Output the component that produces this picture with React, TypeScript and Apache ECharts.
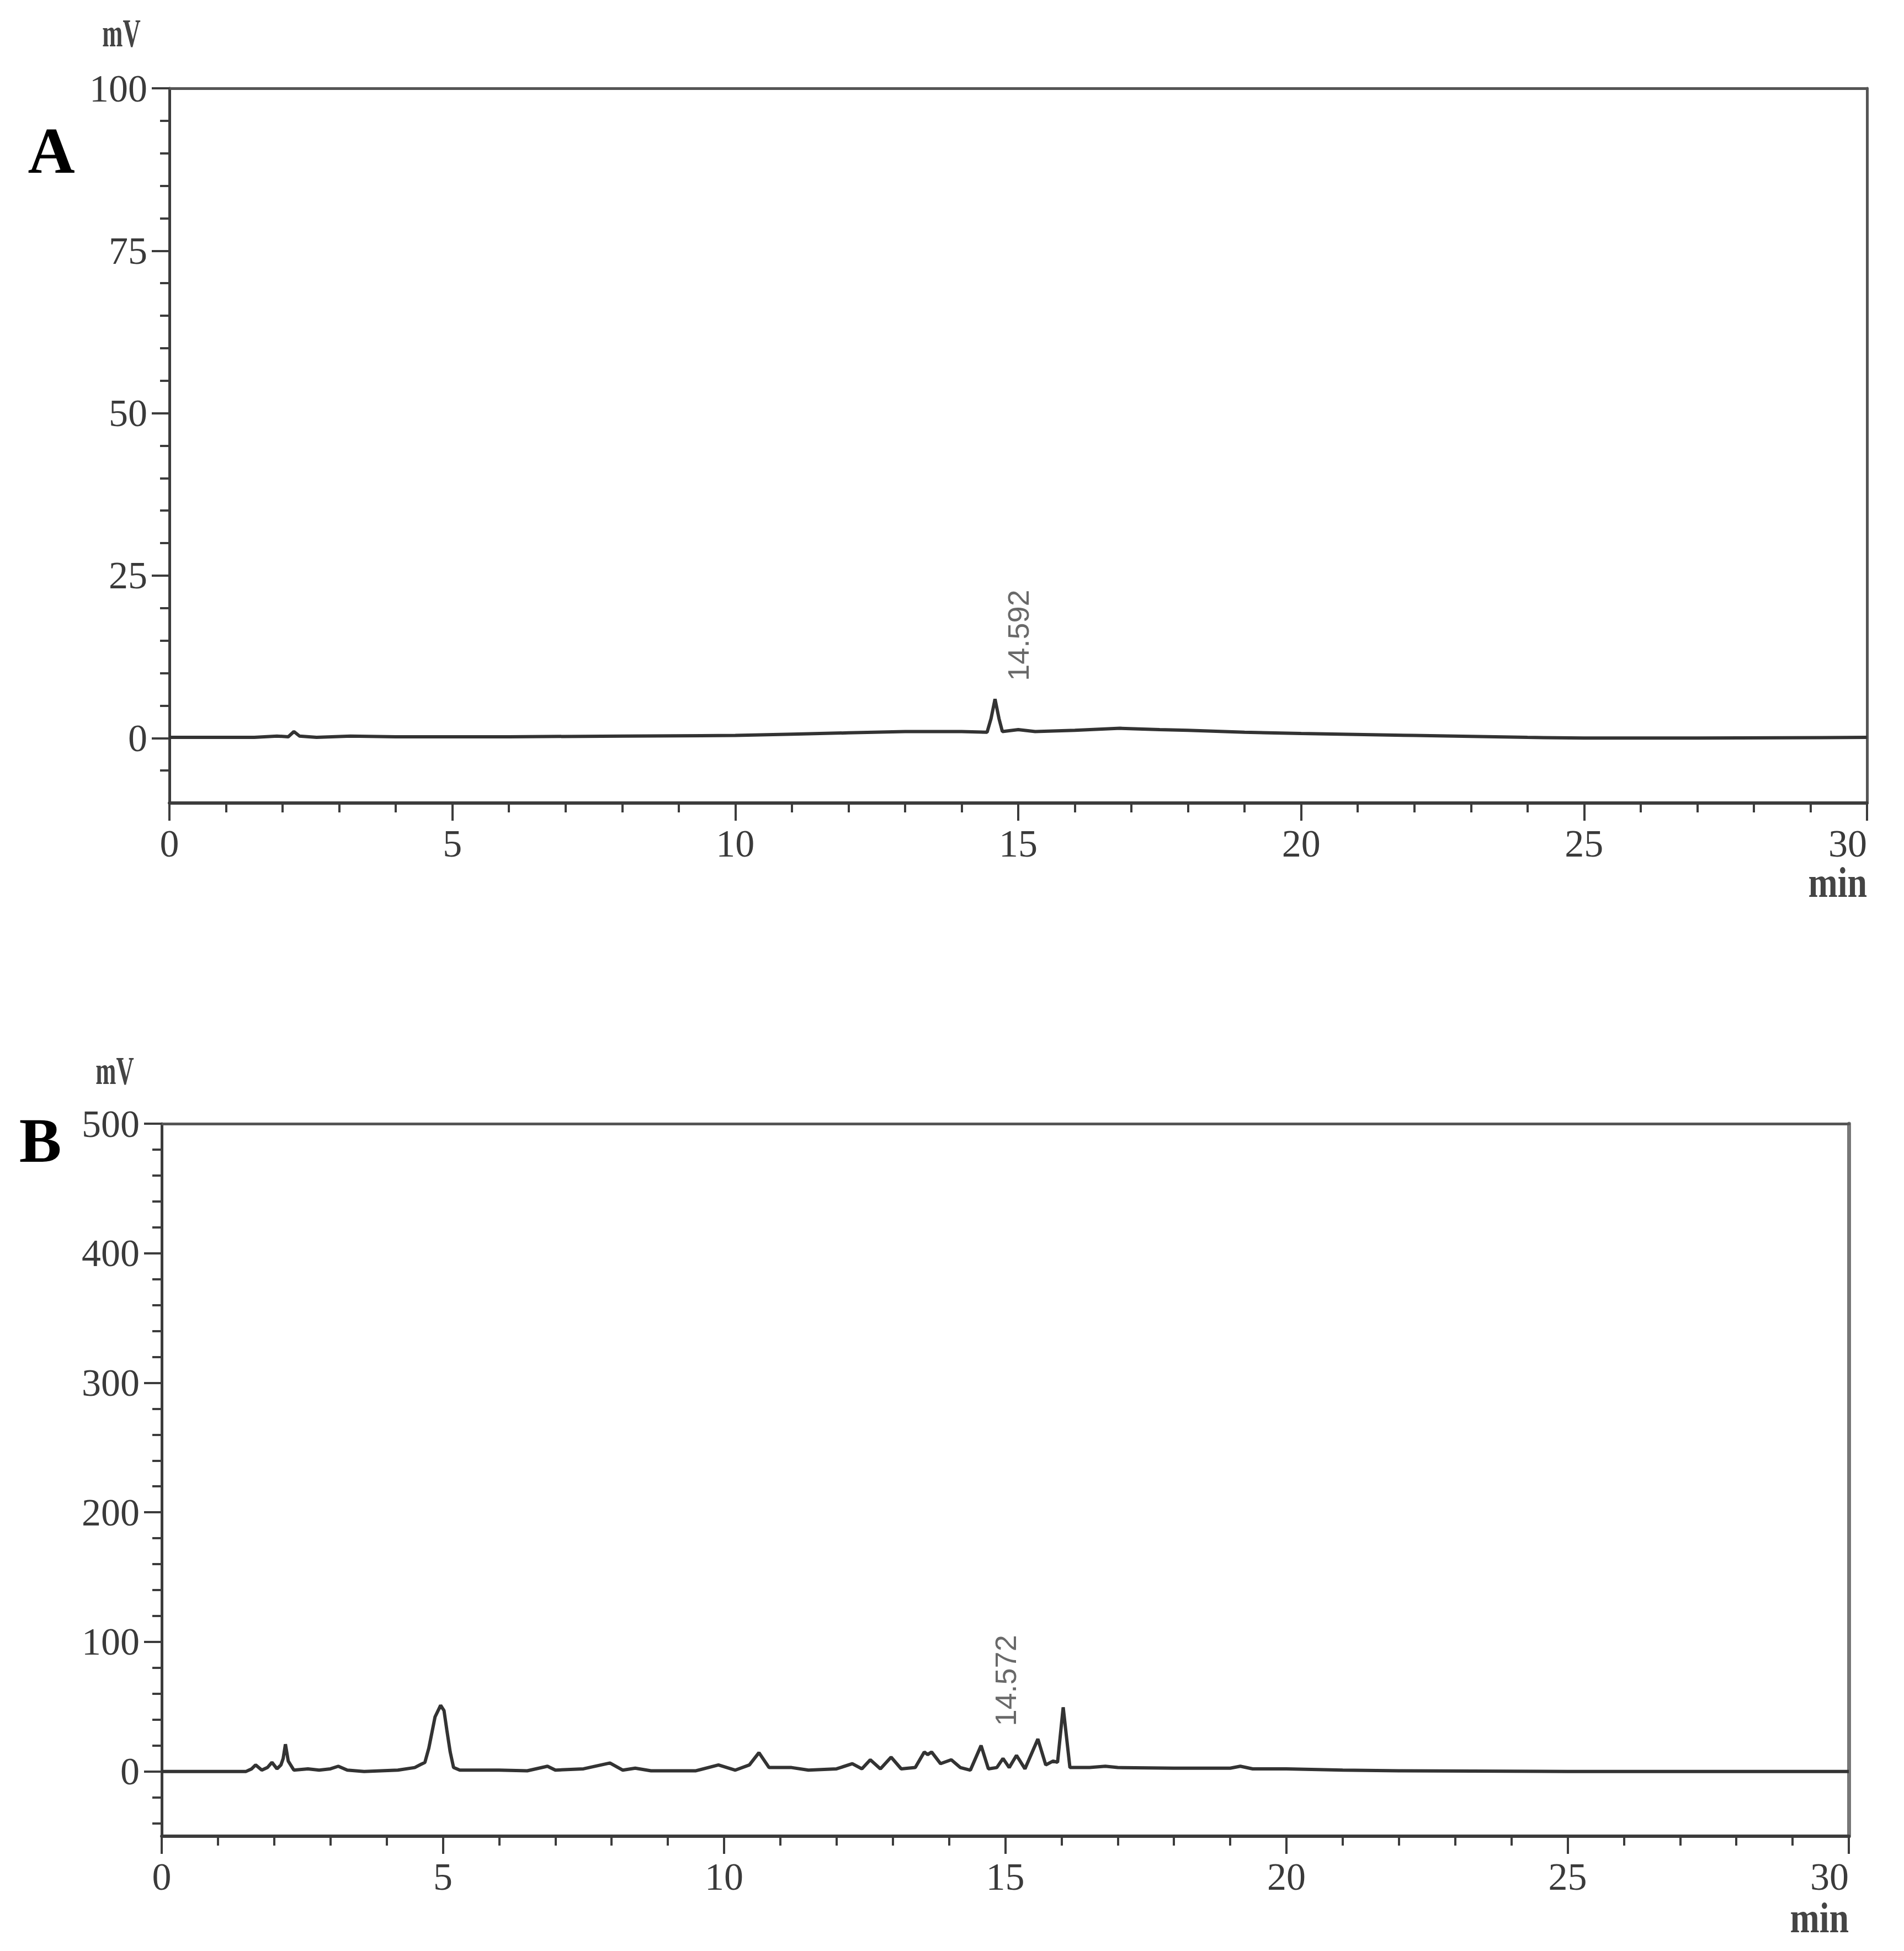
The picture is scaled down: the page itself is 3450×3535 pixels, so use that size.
import React, { useEffect, useRef } from 'react';
import * as echarts from 'echarts';

// ---- Chromatogram A (reference) ----
const timeA = [0, 1.5, 1.9, 2.1, 2.2, 2.3, 2.6, 3.2, 4, 6, 8, 10, 11, 12, 13, 14, 14.45, 14.52, 14.59, 14.66, 14.72, 15, 15.3, 16, 16.8, 17.5, 18, 19, 20, 22, 24, 25, 27, 30];
const mvA = [0.1, 0.1, 0.3, 0.2, 1.0, 0.3, 0.1, 0.3, 0.2, 0.2, 0.3, 0.4, 0.6, 0.8, 1.0, 1.0, 0.9, 3, 6.0, 3, 1.0, 1.3, 1.0, 1.2, 1.5, 1.3, 1.2, 0.9, 0.7, 0.4, 0.1, 0, 0, 0.1];

// ---- Chromatogram B (sample) ----
const timeB = [0, 1.5, 1.6, 1.67, 1.78, 1.88, 1.96, 2.05, 2.12, 2.16, 2.2, 2.25, 2.35, 2.6, 2.8, 3.0, 3.14, 3.3, 3.6, 4.2, 4.5, 4.68, 4.75, 4.86, 4.96, 5.02, 5.07, 5.13, 5.19, 5.3, 6.0, 6.5, 6.86, 7.0, 7.5, 7.97, 8.2, 8.42, 8.7, 9.5, 9.9, 10.2, 10.45, 10.62, 10.8, 11.2, 11.5, 12.0, 12.28, 12.45, 12.6, 12.78, 12.97, 13.15, 13.4, 13.56, 13.62, 13.69, 13.85, 14.04, 14.2, 14.38, 14.57, 14.7, 14.85, 14.96, 15.07, 15.2, 15.35, 15.58, 15.72, 15.85, 15.93, 16.03, 16.15, 16.5, 16.78, 17.0, 18, 19.0, 19.18, 19.4, 20, 21, 22, 25, 30];
const mvB = [0, 0, 2, 5, 1, 3, 7, 2, 5, 10, 21, 8, 1, 2, 1, 2, 4, 1, 0, 1, 3, 7, 18, 42, 51, 47, 32, 15, 3, 1, 1, 0.5, 4, 1, 2, 6.5, 1, 2.5, 0.5, 0.5, 5, 1, 5, 14.5, 3, 3, 1, 2, 6, 2, 9, 2, 11, 2, 3, 15, 13, 15, 6, 9, 3, 1, 20, 2, 3, 10, 3, 12.4, 2, 25, 5, 8, 7, 49.5, 3, 3, 4, 3, 2.5, 2.5, 4, 2, 2, 1, 0.5, 0, 0];

// ---- Axes ----
const xMin = 0;
const xMax = 30;
const xInterval = 5;
const yMinA = -10;
const yMaxA = 100;
const yMajorA = [0, 25, 50, 75, 100];
const yMinorA = [-5, 5, 10, 15, 20, 30, 35, 40, 45, 55, 60, 65, 70, 80, 85, 90, 95];
const yMinB = -50;
const yMaxB = 500;
const yMajorB = [0, 100, 200, 300, 400, 500];
const yMinorB = [-40, -20, 20, 40, 60, 80, 120, 140, 160, 180, 220, 240, 260, 280, 320, 340, 360, 380, 420, 440, 460, 480];

// ---- Peak annotations (label anchor in data coords) ----
const peakLabelA = { text: '14.592', x: 15.0, y: 8.8 };
const peakLabelB = { text: '14.572', x: 15.0, y: 35 };

const AXIS_COLOR = '#3c3c3c';
const LABEL_COLOR = '#3a3a3a';
const SERIF = '"Liberation Serif", "Times New Roman", serif';

function pairs(t: number[], v: number[]) {
  return t.map((x, i) => [x, v[i]]);
}

function xAxesFor(gridIndex: number) {
  return [
    {
      type: 'value', gridIndex, min: xMin, max: xMax, interval: xInterval, position: 'bottom',
      axisLine: { show: true, onZero: false, lineStyle: { color: AXIS_COLOR, width: 6 } },
      axisTick: { show: true, length: 32, lineStyle: { color: AXIS_COLOR, width: 4 } },
      minorTick: { show: true, splitNumber: 5, length: 17, lineStyle: { color: AXIS_COLOR, width: 4 } },
      axisLabel: { show: true, margin: 38, fontSize: 70, fontFamily: SERIF, color: LABEL_COLOR, alignMaxLabel: 'right' },
      splitLine: { show: false },
    },
    {
      type: 'value', gridIndex, min: xMin, max: xMax, position: 'top',
      axisLine: { show: true, onZero: false, lineStyle: { color: '#555', width: 5 } },
      axisTick: { show: false }, axisLabel: { show: false }, splitLine: { show: false },
    },
  ];
}

function yAxesFor(gridIndex: number, min: number, max: number, major: number[], minor: number[], rightColor: string, rightWidth: number) {
  return [
    {
      type: 'value', gridIndex, min, max, position: 'left',
      axisLine: { show: true, onZero: false, lineStyle: { color: AXIS_COLOR, width: 5 } },
      axisTick: { show: true, length: 32, customValues: major, lineStyle: { color: AXIS_COLOR, width: 4 } },
      axisLabel: { show: true, customValues: major, margin: 40, fontSize: 70, fontFamily: SERIF, color: LABEL_COLOR },
      splitLine: { show: false },
    },
    {
      type: 'value', gridIndex, min, max, position: 'left',
      axisLine: { show: false, onZero: false },
      axisTick: { show: true, length: 17, customValues: minor, lineStyle: { color: AXIS_COLOR, width: 4 } },
      axisLabel: { show: false }, splitLine: { show: false },
    },
    {
      type: 'value', gridIndex, min, max, position: 'right',
      axisLine: { show: true, onZero: false, lineStyle: { color: rightColor, width: rightWidth } },
      axisTick: { show: false }, axisLabel: { show: false }, splitLine: { show: false },
    },
  ];
}

function labelSeries(xAxisIndex: number, yAxisIndex: number, lab: { text: string; x: number; y: number }) {
  return {
    type: 'scatter', xAxisIndex, yAxisIndex, symbolSize: 1, silent: true,
    itemStyle: { color: 'rgba(0,0,0,0)' },
    data: [[lab.x, lab.y]],
    label: {
      show: true, formatter: lab.text, position: 'inside', rotate: 90, align: 'left', verticalAlign: 'middle',
      fontSize: 54, fontFamily: '"Liberation Sans", Arial, sans-serif', color: '#444',
    },
  };
}

function textEl(text: string, x: number, y: number, font: string, align: string, scaleX = 1, fill = '#000') {
  return {
    type: 'text', x, y, scaleX, silent: true,
    style: { text, font, fill, align, verticalAlign: 'middle', textAlign: align, textVerticalAlign: 'middle' },
  };
}

export default function App() {
  const ref = useRef<HTMLDivElement>(null);
  useEffect(() => {
    if (!ref.current) return;
    const chart = echarts.init(ref.current, undefined, { renderer: 'svg' });
    const option: any = {
      animation: false,
      backgroundColor: '#ffffff',
      grid: [
        { left: 307, right: 67, top: 160, height: 1295 },
        { left: 293, right: 100, top: 2036, height: 1291 },
      ],
      xAxis: [...xAxesFor(0), ...xAxesFor(1)],
      yAxis: [
        ...yAxesFor(0, yMinA, yMaxA, yMajorA, yMinorA, '#555', 5),
        ...yAxesFor(1, yMinB, yMaxB, yMajorB, yMinorB, '#777', 7),
      ],
      series: [
        {
          type: 'line', xAxisIndex: 0, yAxisIndex: 0, data: pairs(timeA, mvA), showSymbol: false,
          lineStyle: { color: '#333', width: 6 }, smooth: false,
        },
        {
          type: 'line', xAxisIndex: 2, yAxisIndex: 3, data: pairs(timeB, mvB), showSymbol: false,
          lineStyle: { color: '#333', width: 6 }, smooth: false,
        },
        labelSeries(0, 0, peakLabelA),
        labelSeries(2, 3, peakLabelB),
      ],
      graphic: [
        textEl('A', 93, 273, `bold 118px ${SERIF}`, 'center'),
        textEl('B', 73, 2066, `bold 115px ${SERIF}`, 'center'),
        textEl('mV', 220, 60, `bold 72px ${SERIF}`, 'center', 0.62, '#444'),
        textEl('mV', 208, 1940, `bold 72px ${SERIF}`, 'center', 0.62, '#444'),
        textEl('min', 3383, 1598, `bold 78px ${SERIF}`, 'right', 0.82, '#444'),
        textEl('min', 3350, 3474, `bold 78px ${SERIF}`, 'right', 0.82, '#444'),
      ],
    };
    chart.setOption(option);
    return () => chart.dispose();
  }, []);
  return (
    <div
      ref={ref}
      style={{ position: 'absolute', left: 0, top: 0, width: 3450, height: 3535, background: '#fff' }}
    />
  );
}
